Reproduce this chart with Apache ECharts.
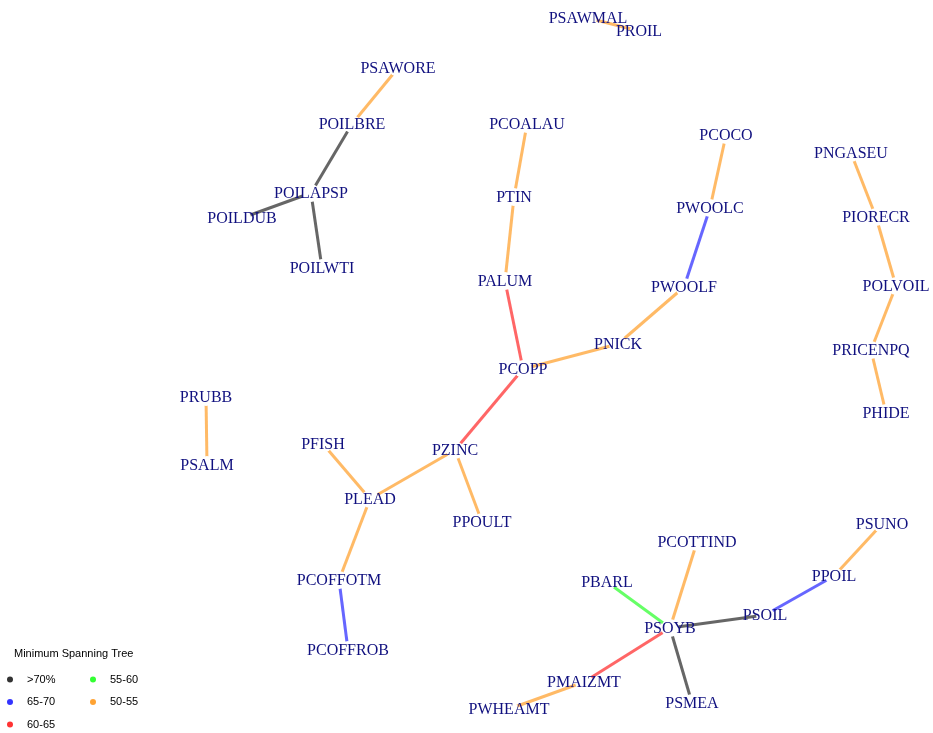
<!DOCTYPE html>
<html>
<head>
<meta charset="utf-8">
<title>Minimum Spanning Tree</title>
<script src="https://cdn.jsdelivr.net/npm/echarts@6/dist/echarts.min.js"></script>
<style>
  html, body { margin: 0; padding: 0; background: #ffffff; }
  #chart { width: 933px; height: 733px; }
</style>
</head>
<body>
<div id="chart"></div>
<script>
// Vertices of the tree and their layout positions (layout units)
const nodeNames = [
  'PSAWMAL', 'PROIL', 'PSAWORE', 'POILBRE', 'POILAPSP', 'POILDUB', 'POILWTI',
  'PCOALAU', 'PTIN', 'PALUM', 'PCOPP', 'PNICK', 'PWOOLF', 'PWOOLC', 'PCOCO',
  'PNGASEU', 'PIORECR', 'POLVOIL', 'PRICENPQ', 'PHIDE',
  'PRUBB', 'PSALM',
  'PFISH', 'PZINC', 'PLEAD', 'PPOULT', 'PCOFFOTM', 'PCOFFROB',
  'PCOTTIND', 'PBARL', 'PSOYB', 'PSOIL', 'PPOIL', 'PSUNO', 'PMAIZMT', 'PWHEAMT', 'PSMEA'
];
const nodeX = [
  588, 639, 398, 352, 311, 242, 322,
  527, 514, 505, 523, 618, 684, 710, 726,
  851, 876, 896, 871, 886,
  206, 207,
  323, 455, 370, 482, 339, 348,
  697, 607, 670, 765, 834, 882, 584, 509, 692
];
const nodeY = [
  18, 31, 68, 124, 193, 218, 268,
  124, 197, 281, 369, 344, 287, 208, 135,
  153, 217, 286, 350, 413,
  397, 465,
  444, 450, 499, 522, 580, 650,
  542, 582, 628, 615, 576, 524, 682, 709, 703
];

// Edges: source, target and correlation class (index into classNames)
const edgeSource = [
  'PSAWMAL', 'PSAWORE', 'POILBRE', 'POILAPSP', 'POILAPSP',
  'PCOALAU', 'PTIN', 'PALUM', 'PCOPP', 'PNICK', 'PWOOLF', 'PWOOLC',
  'PNGASEU', 'PIORECR', 'POLVOIL', 'PRICENPQ',
  'PRUBB',
  'PCOPP', 'PZINC', 'PZINC', 'PFISH', 'PLEAD', 'PCOFFOTM',
  'PSOYB', 'PSOYB', 'PSOYB', 'PSOIL', 'PPOIL', 'PSOYB', 'PMAIZMT', 'PSOYB'
];
const edgeTarget = [
  'PROIL', 'POILBRE', 'POILAPSP', 'POILDUB', 'POILWTI',
  'PTIN', 'PALUM', 'PCOPP', 'PNICK', 'PWOOLF', 'PWOOLC', 'PCOCO',
  'PIORECR', 'POLVOIL', 'PRICENPQ', 'PHIDE',
  'PSALM',
  'PZINC', 'PLEAD', 'PPOULT', 'PLEAD', 'PCOFFOTM', 'PCOFFROB',
  'PCOTTIND', 'PBARL', 'PSOIL', 'PPOIL', 'PSUNO', 'PMAIZMT', 'PWHEAMT', 'PSMEA'
];
const edgeClass = [
  4, 4, 0, 0, 0,
  4, 4, 2, 4, 4, 1, 4,
  4, 4, 4, 4,
  4,
  2, 4, 4, 4, 4, 1,
  4, 3, 0, 1, 4, 2, 4, 0
];

// Correlation classes and their colours
const classNames = ['>70%', '65-70', '60-65', '55-60', '50-55'];
const classColors = ['#000000', '#0000ff', '#ff0000', '#00ff00', '#ff8c00'];

const nodes = nodeNames.map((name, i) => ({ name: name, value: [nodeX[i], nodeY[i]] }));
const links = edgeSource.map((s, i) => ({
  source: s,
  target: edgeTarget[i],
  lineStyle: { color: classColors[edgeClass[i]], opacity: 0.6, width: 3 }
}));

// Empty series that only feed the legend swatches
const legendSeries = classNames.map((name, i) => ({
  name: name,
  type: 'scatter',
  data: [],
  itemStyle: { color: classColors[i] }
}));

const chart = echarts.init(document.getElementById('chart'), null, { renderer: 'canvas' });

const legendCommon = {
  orient: 'vertical',
  icon: 'circle',
  padding: 0,
  itemWidth: 6,
  itemHeight: 6,
  itemGap: 9.5,
  height: 70,
  textStyle: {
    fontFamily: 'Liberation Sans, Arial, sans-serif',
    fontSize: 11,
    lineHeight: 13,
    color: '#000000',
    padding: [0, 0, 0, 9]
  }
};

chart.setOption({
  animation: false,
  backgroundColor: '#ffffff',
  title: {
    text: 'Minimum Spanning Tree',
    left: 9,
    top: 643,
    textStyle: {
      fontFamily: 'Liberation Sans, Arial, sans-serif',
      fontSize: 11,
      fontWeight: 'normal',
      color: '#000000'
    }
  },
  legend: [
    Object.assign({}, legendCommon, { data: classNames.slice(0, 3), left: 7, top: 673 }),
    Object.assign({}, legendCommon, { data: classNames.slice(3), left: 90, top: 673 })
  ],
  grid: { left: 0, right: 0, top: 0, bottom: 0 },
  xAxis: { type: 'value', min: 0, max: 933, show: false },
  yAxis: { type: 'value', min: 0, max: 733, inverse: true, show: false },
  series: [
    {
      type: 'graph',
      coordinateSystem: 'cartesian2d',
      symbol: 'circle',
      symbolSize: 18,
      itemStyle: { color: '#ffffff' },
      label: {
        show: true,
        position: 'inside',
        offset: [0, 1],
        formatter: '{b}',
        fontFamily: 'Liberation Serif, Times New Roman, serif',
        fontSize: 16,
        color: '#10107f'
      },
      emphasis: { disabled: true },
      data: nodes,
      links: links,
      z: 2
    }
  ].concat(legendSeries)
});
</script>
</body>
</html>
